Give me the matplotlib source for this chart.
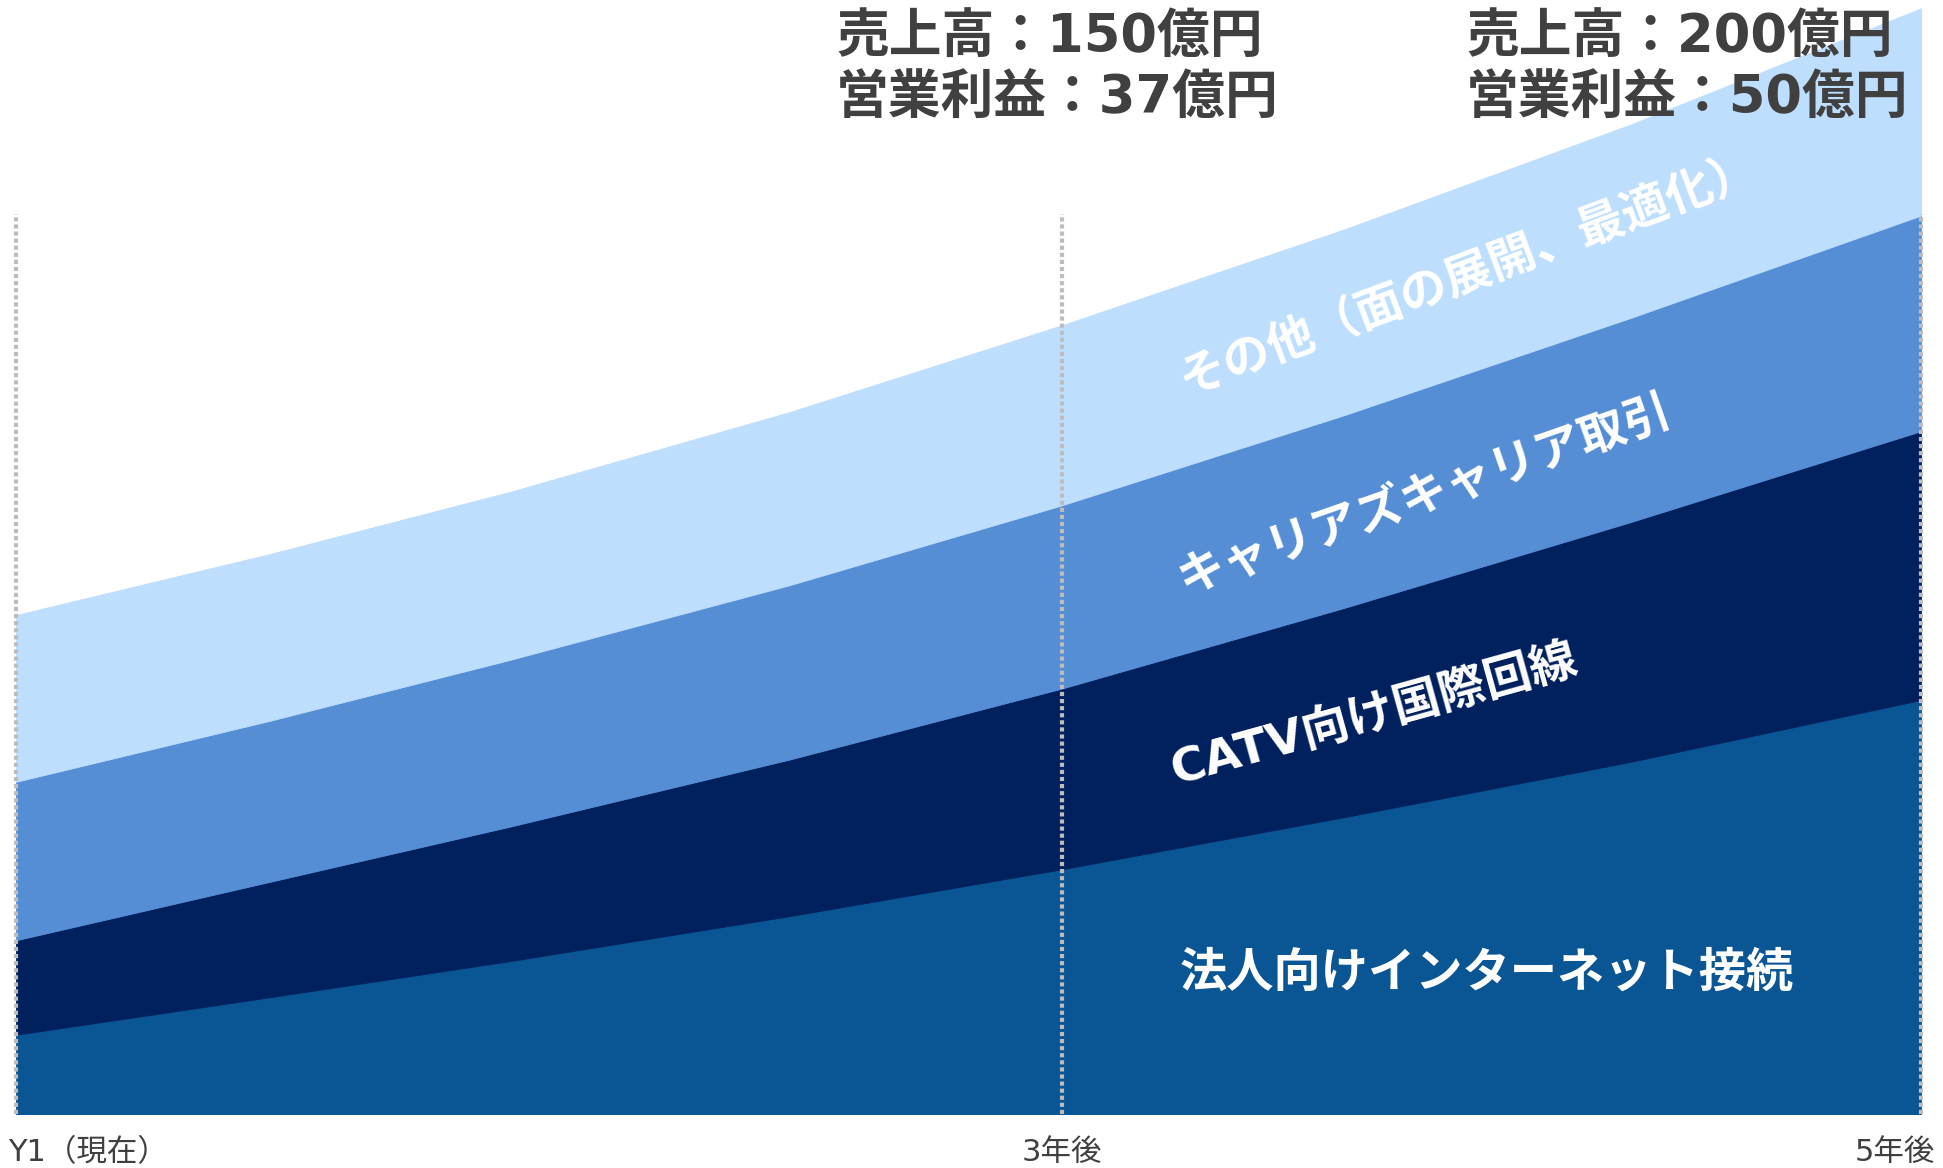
import matplotlib.pyplot as plt

plt.rcParams['font.family'] = ['DejaVu Sans', 'Noto Sans CJK JP']

# sample points along the plan timeline (0 = 現在, 100 = 5年後)
period = [0, 13.3, 25.9, 40.6, 54.9, 69.7, 84.7, 100]

# 億円, stacked bottom -> top
corporate_internet = [38.1, 44.0, 49.7, 56.8, 64.2, 72.4, 81.1, 90.9]
catv_intl = [14.9, 18.2, 21.2, 24.7, 28.5, 33.0, 37.8, 42.4]
carriers_carrier = [25.0, 25.4, 26.3, 27.5, 28.9, 30.4, 32.2, 34.0]
others = [26.3, 26.3, 26.5, 27.3, 28.4, 29.3, 30.5, 32.7]

segment_names = [
    "法人向けインターネット接続",
    "CATV向け国際回線",
    "キャリアズキャリア取引",
    "その他（面の展開、最適化）",
]
segment_colors = ["#0A5594", "#00205E", "#558ED5", "#BDDEFD"]

tick_pos = [0, 54.9, 100]
tick_labels = ["Y1（現在）", "3年後", "5年後"]

sales = [150, 200]
op_profit = [37, 50]

W, H = 1943, 1168
fig = plt.figure(figsize=(W / 100, H / 100), dpi=100)
ax = fig.add_axes([16 / W, 54 / H, 1905 / W, 1114 / H])

y_floor, y_top = 25.6, 201.3
ax.stackplot(period, corporate_internet, catv_intl, carriers_carrier, others,
             colors=segment_colors, edgecolor="face", linewidth=0.6)
ax.set_xlim(0, 100)
ax.set_ylim(y_floor, y_top)
ax.axis("off")

# dotted guides at each milestone
ax.vlines(tick_pos, y_floor, 167.6, colors="#BDBDBD",
          linestyles=(0, (1, 0.7)), linewidth=3.0, clip_on=False, zorder=3)

# milestone labels under the baseline
offsets = [(-6, "left"), (0, "center"), (10, "right")]
for x, lab, (dx, ha) in zip(tick_pos, tick_labels, offsets):
    ax.annotate(lab, xy=(x, 0), xycoords=("data", "axes fraction"),
                xytext=(dx, -28), textcoords="offset points",
                ha=ha, va="center", fontsize=22, color="#404040")

# segment names inside the bands
label_spots = [(76.3, 157.9, 20.5), (74.0, 123.1, 19.2), (71.3, 88.4, 15.5), (77.2, 47.7, 0)]
for name, (x, y, rot) in zip(segment_names[::-1], label_spots):
    ax.text(x, y, name, rotation=rot, rotation_mode="anchor",
            ha="center", va="center", fontsize=34, fontweight="bold",
            color="white", zorder=4)

# sales / operating profit targets
for gx, s, p in zip([836, 1466], sales, op_profit):
    fig.text(gx / W, 1 - 37 / H, f"売上高：{s}億円", fontsize=38,
             fontweight="bold", color="#404040", va="center")
    fig.text(gx / W, 1 - 99 / H, f"営業利益：{p}億円", fontsize=38,
             fontweight="bold", color="#404040", va="center")

fig.savefig("out.png", dpi=100)
